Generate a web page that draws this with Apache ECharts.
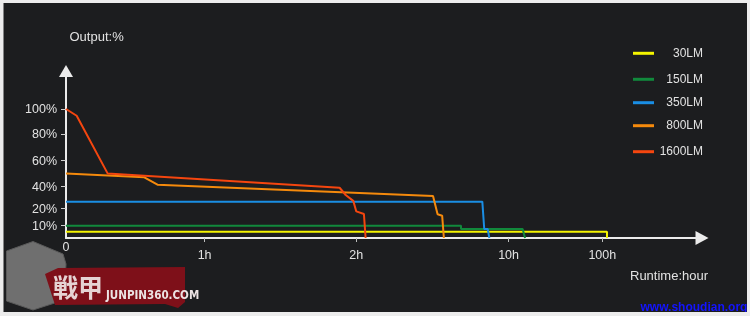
<!DOCTYPE html>
<html>
<head>
<meta charset="utf-8">
<script src="https://cdn.jsdelivr.net/npm/echarts@6/dist/echarts.min.js"></script>
<style>
html,body{margin:0;padding:0;background:#ececec;}
#c{width:750px;height:316px;}
</style>
</head>
<body>
<div id="c"></div>
<script>
// ---- data (hours, output %) ----
const seriesNames = ['30LM', '150LM', '350LM', '800LM', '1600LM'];
const seriesColors = ['#f4f400', '#11893c', '#1a8ee4', '#f58a0c', '#f5460f'];
const lm30 = [[0, 5], [104.5, 5], [104.5, 0]];
const lm150 = [[0, 10], [7.5, 10], [7.5, 7.3], [23.5, 7.3], [25.8, 0]];
const lm350 = [[0, 26.3], [8.62, 26.3], [8.72, 7.3], [8.9, 7.3], [8.99, 0]];
const lm800 = [[0, 50], [0.565, 47], [0.66, 41.3], [6.03, 31.4], [6.27, 16.7], [6.51, 15.9], [6.6, 15.9], [6.6, 0]];
const lm1600 = [[0, 100], [0.077, 94.6], [0.3, 50], [1.89, 38.8], [1.93, 32.3], [1.98, 27], [2.0, 18.4], [2.4, 16.9], [2.49, 16.9], [2.49, 0]];
const xTickHours = [1, 2, 10, 100];
const xTickLabels = ['1h', '2h', '10h', '100h'];
const yTickValues = [10, 20, 40, 60, 80, 100];

// ---- piecewise axis scales (scale definition, not data) ----
const xScaleKnotsHours = [0, 1, 2, 10, 100];
const xScaleKnotsUnits = [0, 138.6, 290.3, 442.6, 536.3];
const yScaleKnotsPct = [0, 10, 20, 40, 60, 80, 100];
const yScaleKnotsUnits = [0, 12.3, 29.3, 51.6, 77.6, 104, 129];

function interp(v, xs, ys) {
  for (let i = 1; i < xs.length; i++) {
    if (v <= xs[i] || i === xs.length - 1) {
      return ys[i - 1] + (v - xs[i - 1]) * (ys[i] - ys[i - 1]) / (xs[i] - xs[i - 1]);
    }
  }
}
const toX = h => interp(h, xScaleKnotsHours, xScaleKnotsUnits);
const toY = p => interp(p, yScaleKnotsPct, yScaleKnotsUnits);
const mapData = arr => arr.map(d => [toX(d[0]), toY(d[1])]);
const allData = [lm30, lm150, lm350, lm800, lm1600];

const legendCenters = [53.3, 79.3, 102.7, 125.7, 151.7];
const FONT = '"Liberation Sans", Arial, sans-serif';
const TXT = '#e2e2e2';

const xLabelPos = [0].concat(xTickHours.map(toX));
const yLabelPos = yTickValues.map(toY);

const chart = echarts.init(document.getElementById('c'), null, {renderer: 'canvas'});
chart.setOption({
  backgroundColor: '#1c1d1f',
  animation: false,
  textStyle: {fontFamily: FONT},
  grid: {left: 66, right: 48, top: 71, bottom: 78, outerBoundsMode: 'none'},
  legend: seriesNames.map((n, i) => ({
    data: [n],
    orient: 'vertical',
    left: 633,
    top: legendCenters[i] - 6,
    padding: 0,
    itemWidth: 21,
    itemHeight: 3,
    icon: 'rect',
    selectedMode: false,
    formatter: '{a|{name}}',
    textStyle: {
      color: TXT, fontSize: 12, fontFamily: FONT,
      rich: {a: {width: 44, align: 'right', color: TXT, fontSize: 12, fontFamily: FONT}}
    }
  })),
  xAxis: {
    type: 'value', min: 0, max: 636,
    splitLine: {show: false},
    axisLine: {show: true, symbol: ['none', 'triangle'], symbolSize: [14, 13],
      lineStyle: {color: '#ebebeb', width: 2}},
    axisTick: {show: true, customValues: xTickHours.map(toX), length: 4,
      lineStyle: {color: '#bdbdbd', width: 1}},
    axisLabel: {
      customValues: xLabelPos, margin: 3, color: TXT, fontSize: 12.5, fontFamily: FONT,
      formatter: v => {
        if (Math.abs(v) < 0.01) return '{z|0}';
        for (let i = 0; i < xTickHours.length; i++) {
          if (Math.abs(toX(xTickHours[i]) - v) < 0.01) return '{h|' + xTickLabels[i] + '}';
        }
        return '';
      },
      rich: {
        z: {color: TXT, fontSize: 12.5, fontFamily: FONT},
        h: {color: TXT, fontSize: 12.5, fontFamily: FONT, padding: [8.5, 0, 0, 0]}
      }
    }
  },
  yAxis: {
    type: 'value', min: 0, max: 167,
    splitLine: {show: false},
    axisLine: {show: true, symbol: ['none', 'triangle'], symbolSize: [14, 12],
      lineStyle: {color: '#ebebeb', width: 2}},
    axisTick: {show: true, customValues: yLabelPos, length: 5,
      lineStyle: {color: '#cfcfcf', width: 1}},
    axisLabel: {
      customValues: yLabelPos, margin: 9, color: TXT, fontSize: 12.5, fontFamily: FONT,
      formatter: v => {
        for (let i = 0; i < yTickValues.length; i++) {
          if (Math.abs(toY(yTickValues[i]) - v) < 0.01) return '{y|' + yTickValues[i] + '%}';
        }
        return '';
      },
      rich: {y: {color: TXT, fontSize: 12.5, fontFamily: FONT, padding: [2, 0, 0, 0]}}
    }
  },
  series: seriesNames.map((n, i) => ({
    name: n, type: 'line', data: mapData(allData[i]),
    showSymbol: false, symbol: 'none',
    color: seriesColors[i],
    lineStyle: {color: seriesColors[i], width: 2},
    z: 2 + i
  })),
  graphic: [
    {type: 'text', left: 69.5, top: 31, style: {text: 'Output:%', fill: TXT, font: '13px ' + FONT}},
    {type: 'text', left: 630, top: 270, style: {text: 'Runtime:hour', fill: TXT, font: '13px ' + FONT}},
    // watermark logo
    {type: 'polygon', shape: {points: [[6.5, 251], [33, 241.5], [63, 254], [66, 264], [64, 300], [33, 310], [6.5, 301]]},
      style: {fill: '#6f6f6f', stroke: '#5a5a5a', lineWidth: 1}, z: 10},
    {type: 'polygon', shape: {points: [[45, 274], [58, 268], [185, 267], [185, 302], [178, 308], [165, 304], [55, 305]]},
      style: {fill: '#7e1019'}, z: 11},
    {type: 'text', x: 53, y: 287, style: {text: '戦甲', fill: '#e6d3d3', font: 'bold 25px "Noto Sans CJK JP", sans-serif', verticalAlign: 'middle'}, z: 12},
    {type: 'text', x: 106, y: 296.5, style: {text: 'JUNPIN360.COM', fill: '#ece3e3', font: 'bold 11.5px "Liberation Sans Narrow", "DejaVu Sans Condensed", sans-serif', verticalAlign: 'middle'}, z: 12},
    {type: 'text', x: 640.5, y: 308, style: {text: 'www.shoudian.org', fill: '#1414ff', font: 'bold 12px ' + FONT, verticalAlign: 'middle'}, z: 12},
    // frame
    {type: 'rect', shape: {x: 0, y: 0, width: 750, height: 3}, style: {fill: '#ececec'}, z: 20},
    {type: 'rect', shape: {x: 0, y: 0, width: 3.5, height: 316}, style: {fill: '#ececec'}, z: 20},
    {type: 'rect', shape: {x: 747, y: 0, width: 3, height: 316}, style: {fill: '#ececec'}, z: 20},
    {type: 'rect', shape: {x: 0, y: 312, width: 750, height: 4}, style: {fill: '#ececec'}, z: 20}
  ]
});
</script>
</body>
</html>
